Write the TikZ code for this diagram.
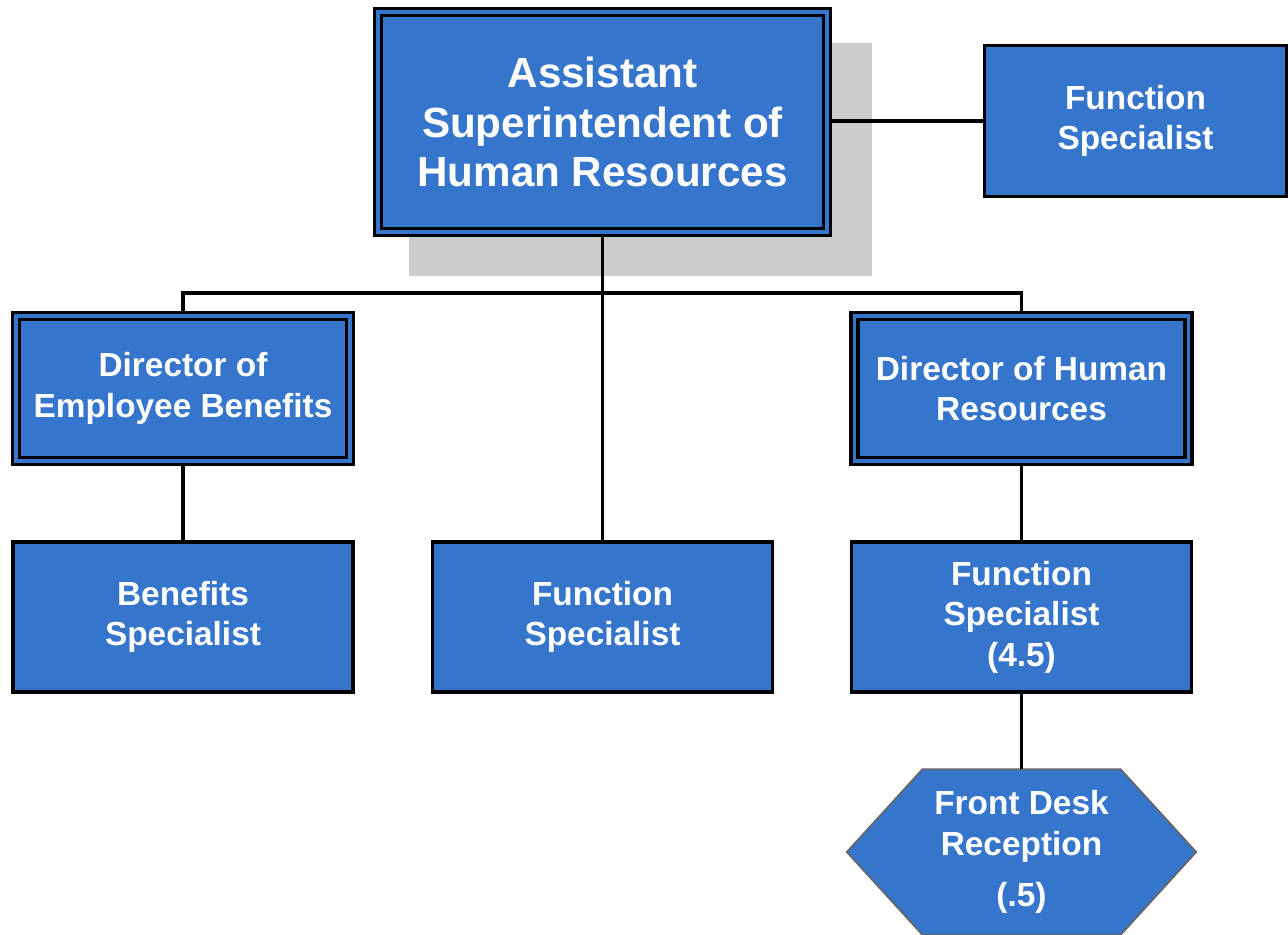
\documentclass[tikz,border=0pt]{standalone}
\usepackage{fontspec}
\setmainfont{Liberation Sans}
\usetikzlibrary{backgrounds}
\definecolor{boxblue}{RGB}{54,117,204}
\definecolor{shadowgray}{RGB}{204,204,204}

\begin{document}
\begin{tikzpicture}[
    box/.style={draw, line width=1pt, fill=boxblue, text=white, align=center, inner sep=0pt,
        font=\fontsize{9.5}{11.5}\selectfont\bfseries, minimum width=3.4cm, minimum height=1.5cm},
    dirbox/.style={box, double=boxblue, double distance=0.9pt, minimum width=3.34cm, minimum height=1.45cm},
    hexbox/.style={text=white, align=center, inner sep=0pt,
        font=\fontsize{9.5}{11.5}\selectfont\bfseries, minimum width=3.48cm, minimum height=1.64cm},
    hexfill/.style={fill=boxblue, draw=black!60, line width=0.5pt},
    link/.style={line width=1pt}
]
    \useasboundingbox (0,0) rectangle (12.88,-9.34);

    % Ombre grise derrière la boîte principale
    \fill[shadowgray] (4.09,-0.43) rectangle (8.72,-2.76);

    % Boîte principale et spécialiste à droite
    \node[dirbox, minimum width=4.49cm, minimum height=2.2cm, font=\fontsize{12}{14.2}\selectfont\bfseries]
        (A1) at (6.025,-1.22) {Assistant\\Superintendent of\\Human Resources};
    \node[box, minimum width=3.02cm, minimum height=1.51cm] (F1) at (11.355,-1.21) {Function\\Specialist};

    % Directeurs
    \node[dirbox] (D1) at (1.83,-3.885) {Director of\\Employee Benefits};
    \node[dirbox] (D2) at (10.215,-3.885) {Director of Human\\Resources};

    % Spécialistes
    \node[box] (B1) at (1.83,-6.17) {Benefits\\Specialist};
    \node[box] (F2) at (6.025,-6.17) {Function\\Specialist};
    \node[box] (F3) at (10.215,-6.17) {Function\\Specialist\\(4.5)};

    % Accueil (hexagone)
    \node[hexbox] (R1) at (10.215,-8.52) {Front Desk\\Reception\\[3pt](.5)};
    \begin{pgfonlayer}{background}
        \filldraw[hexfill] (R1.west) -- ([xshift=0.755cm]R1.north west) -- ([xshift=-0.755cm]R1.north east)
            -- (R1.east) -- ([xshift=-0.755cm]R1.south east) -- ([xshift=0.755cm]R1.south west) -- cycle;
    \end{pgfonlayer}

    % Liaisons
    \coordinate (bus) at (6.025,-2.93);
    \draw[link] (A1.east |- F1.west) -- (F1.west);
    \draw[link] (A1.south) -- (F2.north);
    \draw[link] (D1.north) |- (bus) -| (D2.north);
    \draw[link] (D1.south) -- (B1.north);
    \draw[link] (D2.south) -- (F3.north);
    \draw[link] (F3.south) -- (R1.north);

\end{tikzpicture}
\end{document}
